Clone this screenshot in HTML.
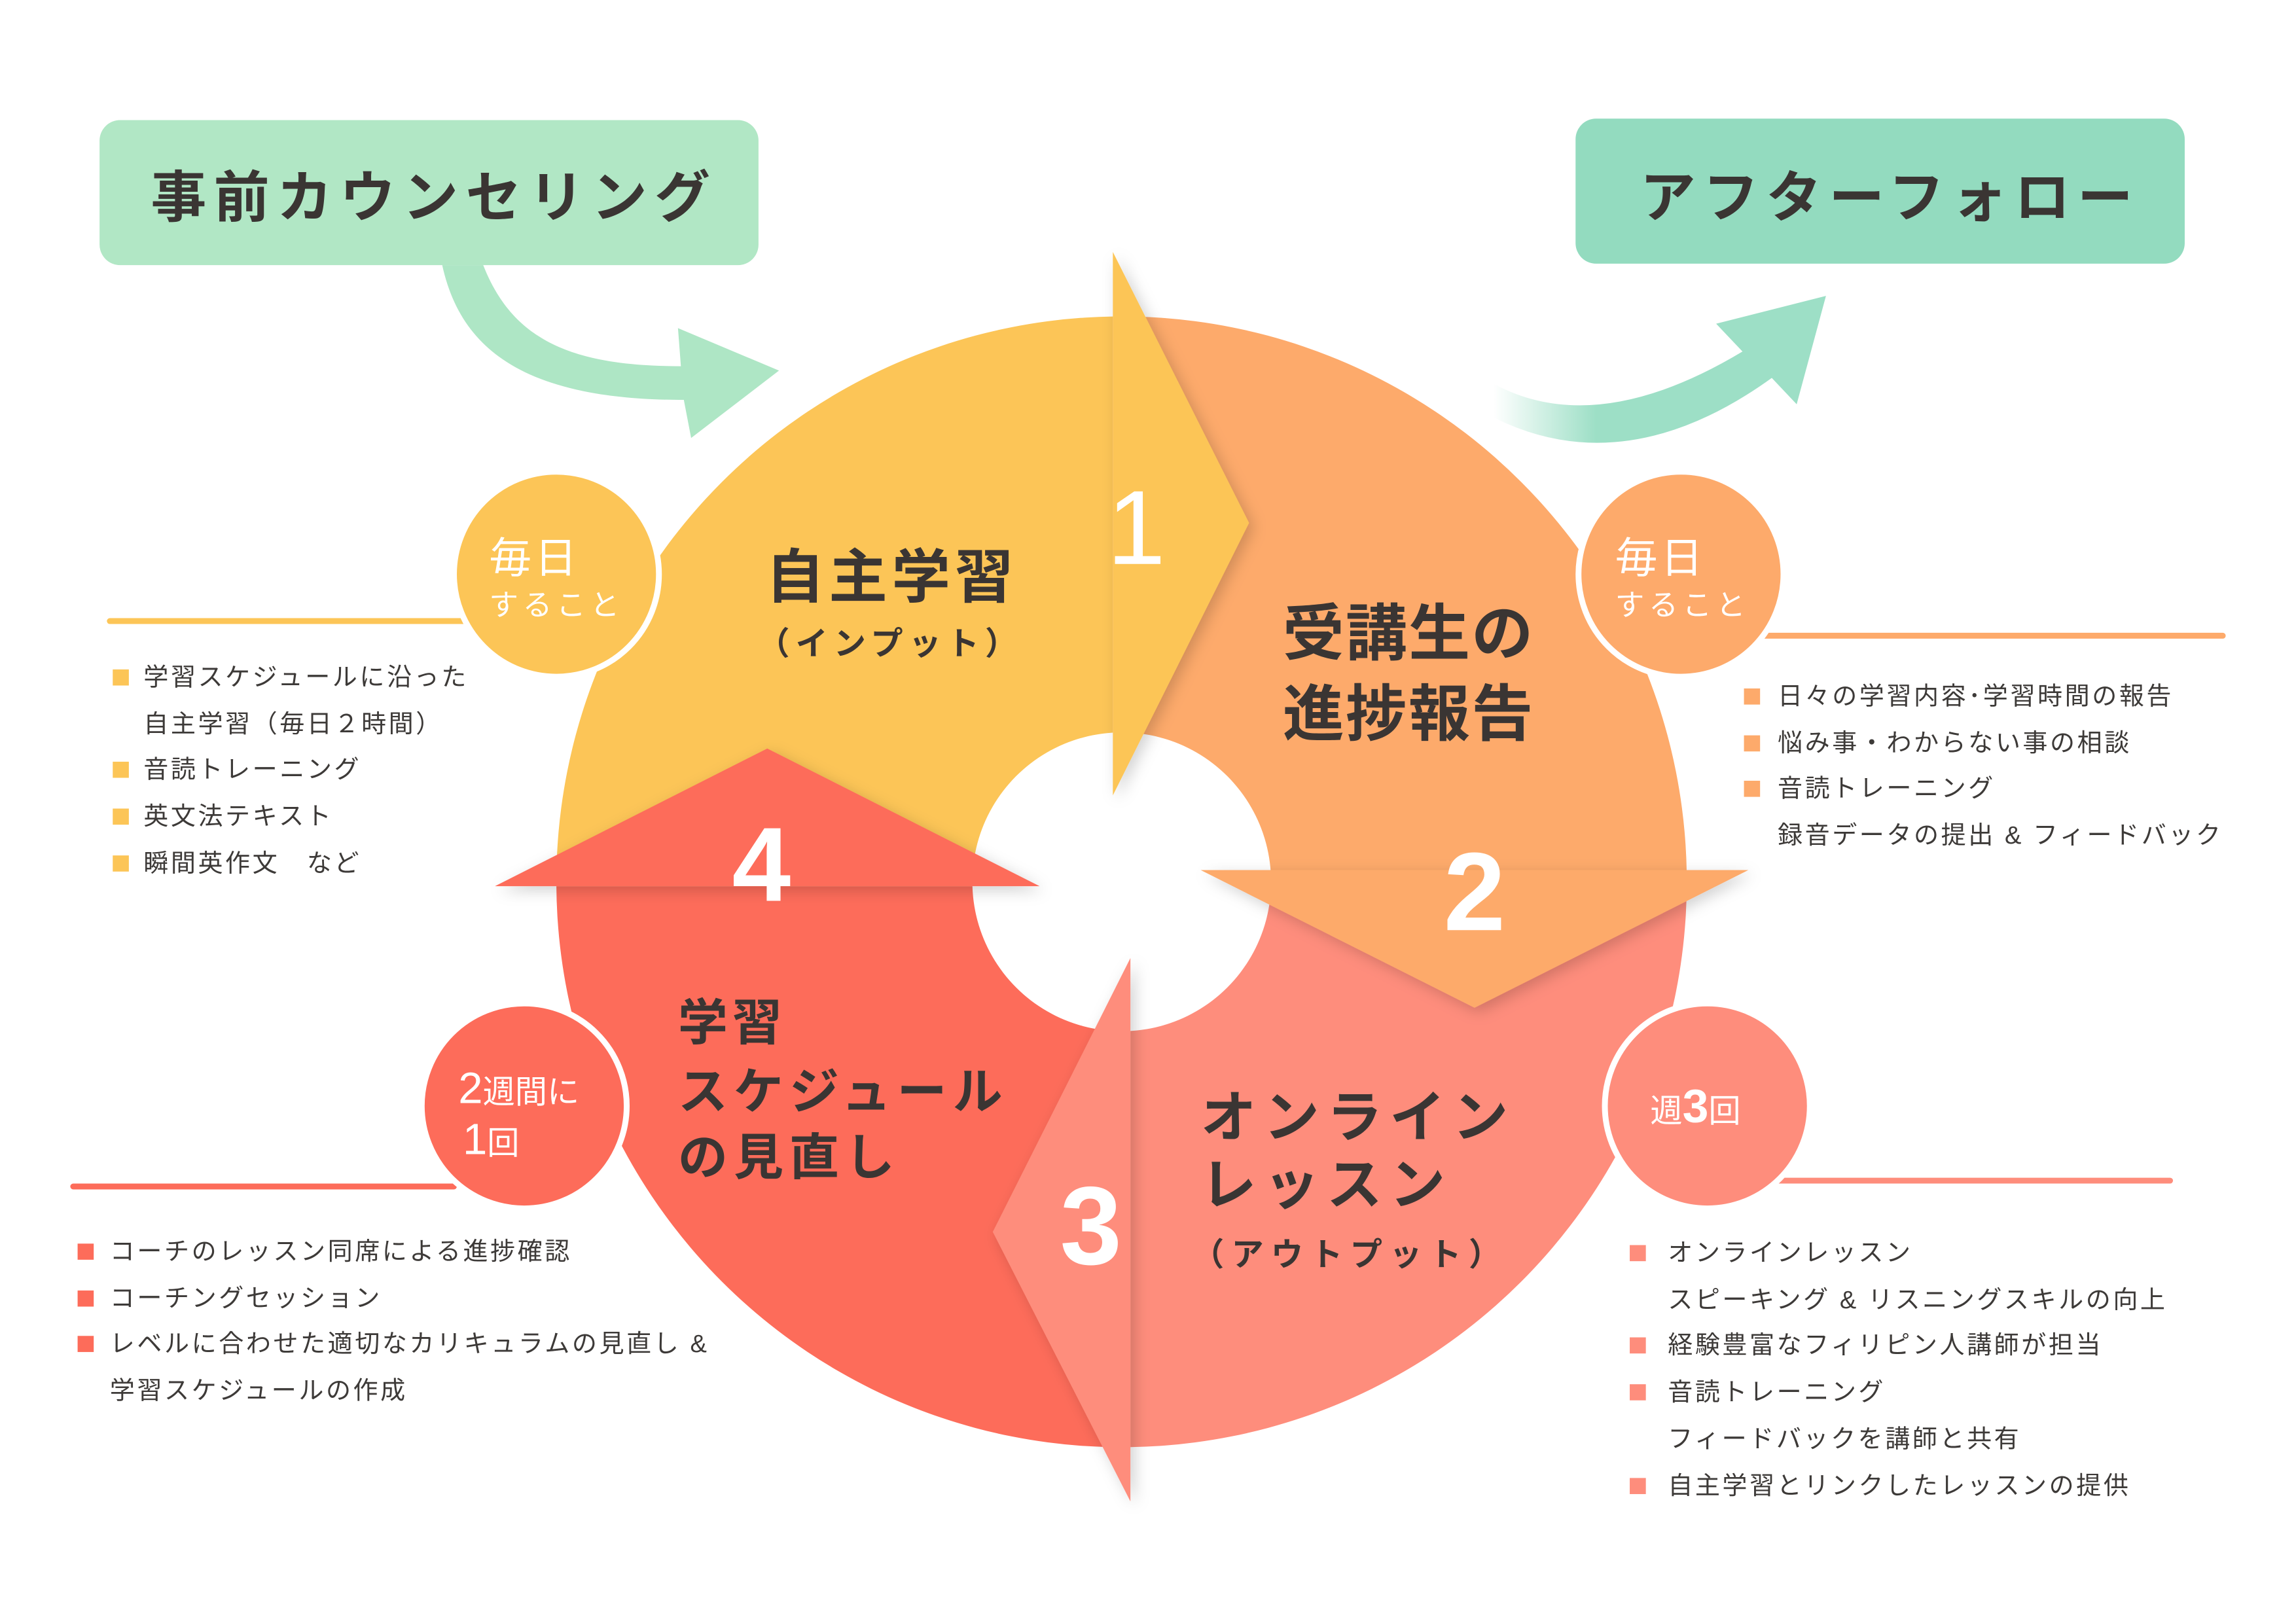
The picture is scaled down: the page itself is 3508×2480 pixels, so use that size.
<!DOCTYPE html>
<html><head><meta charset="utf-8"><style>
html,body{margin:0;padding:0;background:#fff;}
svg{display:block;}
text{font-family:"Liberation Sans","Noto Sans CJK JP",sans-serif;}
.t{fill:#3a3533;font-weight:700;}
.l{fill:#3d3a38;font-size:17px;letter-spacing:1.6px;}
.w{fill:#fff;}
</style></head><body>
<svg width="3508" height="2480" viewBox="0 0 1568 1108" preserveAspectRatio="none" xmlns="http://www.w3.org/2000/svg">
<defs>
<filter id="sh" x="-20%" y="-20%" width="140%" height="140%"><feDropShadow dx="3" dy="3" stdDeviation="5" flood-color="#000" flood-opacity="0.18"/></filter>
<filter id="sh2" x="-20%" y="-20%" width="140%" height="140%"><feDropShadow dx="0" dy="0" stdDeviation="6" flood-color="#000" flood-opacity="0.12"/></filter>
<linearGradient id="fade" x1="1020" y1="0" x2="1090" y2="0" gradientUnits="userSpaceOnUse"><stop offset="0" stop-color="#9DDFC6" stop-opacity="0"/><stop offset="1" stop-color="#9DDFC6"/></linearGradient>
<clipPath id="cy"><rect x="0" y="0" width="760" height="605"/></clipPath>
<clipPath id="co"><rect x="760" y="0" width="900" height="595"/></clipPath>
<clipPath id="cs"><rect x="772" y="595" width="900" height="600"/></clipPath>
<clipPath id="cr"><rect x="0" y="605" width="772" height="600"/></clipPath>
</defs>

<!-- boxes -->
<rect x="68" y="82" width="450" height="99" rx="14" fill="#B1E7C5"/>
<text x="103" y="148" class="t" font-size="38" letter-spacing="5">事前カウンセリング</text>
<rect x="1076" y="81" width="416" height="99" rx="14" fill="#93DBBF"/>
<text x="1120" y="148" class="t" font-size="38" letter-spacing="5">アフターフォロー</text>

<!-- green arrows -->
<path d="M302,181 C315,240 360,273 467,273 L472,299 L532,253 L463,224 L465,250 C390,250 350,232 330,181 Z" fill="#AEE6C5"/>
<path d="M1020,262 Q1090,300 1190,240 L1172,221 L1247,202 L1227,276 L1210,258 Q1110,330 1020,285 Z" fill="url(#fade)"/>

<!-- ring -->
<g filter="url(#sh2)">
<path id="ring" d="M766,216 A386,386 0 1,1 765.9,216 Z M766,500 A102,102 0 1,0 766.1,500 Z" fill="none"/>
</g>
<g fill-rule="evenodd">
<path clip-path="url(#cy)" fill="#FCC557" d="M766,216 A386,386 0 1,1 765.9,216 Z M766,500 A102,102 0 1,0 766.1,500 Z"/>
<path clip-path="url(#co)" fill="#FDAA6B" d="M766,216 A386,386 0 1,1 765.9,216 Z M766,500 A102,102 0 1,0 766.1,500 Z"/>
<path clip-path="url(#cs)" fill="#FE8D7C" d="M766,216 A386,386 0 1,1 765.9,216 Z M766,500 A102,102 0 1,0 766.1,500 Z"/>
<path clip-path="url(#cr)" fill="#FD6C5A" d="M766,216 A386,386 0 1,1 765.9,216 Z M766,500 A102,102 0 1,0 766.1,500 Z"/>
</g>
<!-- arrowheads -->
<polygon points="760,172 853,357 760,543" fill="#FCC557" filter="url(#sh)"/>
<polygon points="820,594 1194,594 1007,688" fill="#FDAA6B" filter="url(#sh)"/>
<polygon points="772,654 772,1025 678,841" fill="#FE8D7C" filter="url(#sh)"/>
<polygon points="338,605 710,605 524,511" fill="#FD6C5A" filter="url(#sh)"/>

<!-- numbers -->
<text x="776" y="385" class="w" font-size="72" text-anchor="middle" font-weight="400">1</text>
<text x="1007" y="635" class="w" font-size="76" text-anchor="middle" font-weight="700">2</text>
<text x="745" y="863" class="w" font-size="76" text-anchor="middle" font-weight="700">3</text>
<text x="520" y="615" class="w" font-size="72" text-anchor="middle" font-weight="700">4</text>

<!-- titles -->
<text x="609" y="408" class="t" font-size="40" text-anchor="middle" letter-spacing="3">自主学習</text>
<text x="608" y="447" class="t" font-size="22" font-weight="400" text-anchor="middle" letter-spacing="4">（インプット）</text>
<text x="876" y="447" class="t" font-size="42" letter-spacing="1">受講生の</text>
<text x="876" y="502" class="t" font-size="42" letter-spacing="1">進捗報告</text>
<text x="820" y="776" class="t" font-size="38" letter-spacing="5">オンライン</text>
<text x="820" y="822" class="t" font-size="38" letter-spacing="5">レッスン</text>
<text x="814" y="864" class="t" font-size="22" font-weight="400" letter-spacing="5">（アウトプット）</text>
<text x="463" y="710" class="t" font-size="34" letter-spacing="3">学習</text>
<text x="463" y="757" class="t" font-size="34" letter-spacing="4">スケジュール</text>
<text x="463" y="802" class="t" font-size="34" letter-spacing="4">の見直し</text>

<!-- lines -->
<line x1="75" y1="424" x2="330" y2="424" stroke="#FCC557" stroke-width="4" stroke-linecap="round"/>
<line x1="1200" y1="434" x2="1518" y2="434" stroke="#FDAA6B" stroke-width="4" stroke-linecap="round"/>
<line x1="50" y1="810" x2="310" y2="810" stroke="#FD6C5A" stroke-width="4" stroke-linecap="round"/>
<line x1="1200" y1="806" x2="1482" y2="806" stroke="#FE8D7C" stroke-width="4" stroke-linecap="round"/>

<!-- circles -->
<circle cx="380" cy="392" r="70" fill="#FCC557" stroke="#fff" stroke-width="4"/>
<text x="334" y="391" class="w" font-size="29" letter-spacing="2">毎日</text>
<text x="334" y="420" class="w" font-size="20" letter-spacing="3">すること</text>
<circle cx="1148" cy="392" r="70" fill="#FDAA6B" stroke="#fff" stroke-width="4"/>
<text x="1103" y="391" class="w" font-size="29" letter-spacing="2">毎日</text>
<text x="1103" y="420" class="w" font-size="20" letter-spacing="3">すること</text>
<circle cx="358" cy="755" r="70" fill="#FD6C5A" stroke="#fff" stroke-width="4"/>
<text x="313" y="753" class="w" font-size="22"><tspan font-size="30">2</tspan>週間に</text>
<text x="316" y="788" class="w" font-size="22"><tspan font-size="30">1</tspan>回</text>
<circle cx="1166" cy="755" r="70" fill="#FE8D7C" stroke="#fff" stroke-width="4"/>
<text x="1127" y="766" class="w" font-size="22">週<tspan font-size="32" font-weight="700">3</tspan>回</text>

<!-- lists -->
<g fill="#FCC557"><rect x="77" y="457" width="11" height="11"/><rect x="77" y="520" width="11" height="11"/><rect x="77" y="552" width="11" height="11"/><rect x="77" y="584" width="11" height="11"/></g>
<text x="98" y="468" class="l">学習スケジュールに沿った</text>
<text x="98" y="500" class="l">自主学習（毎日２時間）</text>
<text x="98" y="531" class="l">音読トレーニング</text>
<text x="98" y="563" class="l">英文法テキスト</text>
<text x="98" y="595" class="l">瞬間英作文　など</text>

<g fill="#FDAA6B"><rect x="1191" y="470" width="11" height="11"/><rect x="1191" y="502" width="11" height="11"/><rect x="1191" y="533" width="11" height="11"/></g>
<text x="1214" y="481" class="l">日々の学習内容･学習時間の報告</text>
<text x="1214" y="513" class="l">悩み事・わからない事の相談</text>
<text x="1214" y="544" class="l">音読トレーニング</text>
<text x="1214" y="576" class="l">録音データの提出 &amp; フィードバック</text>

<g fill="#FD6C5A"><rect x="53" y="849" width="11" height="11"/><rect x="53" y="881" width="11" height="11"/><rect x="53" y="912" width="11" height="11"/></g>
<text x="75" y="860" class="l">コーチのレッスン同席による進捗確認</text>
<text x="75" y="892" class="l">コーチングセッション</text>
<text x="75" y="923" class="l">レベルに合わせた適切なカリキュラムの見直し &amp;</text>
<text x="75" y="955" class="l">学習スケジュールの作成</text>

<g fill="#FE8D7C"><rect x="1113" y="850" width="11" height="11"/><rect x="1113" y="913" width="11" height="11"/><rect x="1113" y="945" width="11" height="11"/><rect x="1113" y="1009" width="11" height="11"/></g>
<text x="1139" y="861" class="l">オンラインレッスン</text>
<text x="1139" y="893" class="l">スピーキング &amp; リスニングスキルの向上</text>
<text x="1139" y="924" class="l">経験豊富なフィリピン人講師が担当</text>
<text x="1139" y="956" class="l">音読トレーニング</text>
<text x="1139" y="988" class="l">フィードバックを講師と共有</text>
<text x="1139" y="1020" class="l">自主学習とリンクしたレッスンの提供</text>
</svg>
</body></html>
